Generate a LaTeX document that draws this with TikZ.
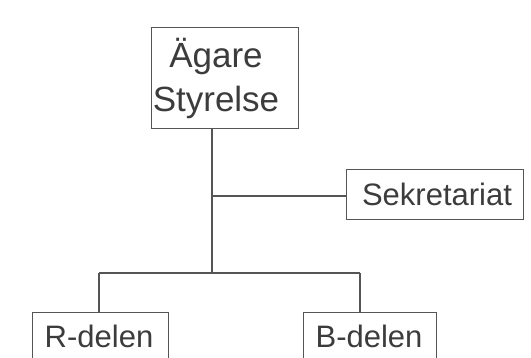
\documentclass[tikz,border=0pt]{standalone}
\usepackage{fontspec}
\setmainfont{Liberation Sans}
\definecolor{ink}{HTML}{3C3C3C}
\definecolor{rule}{HTML}{555555}
\begin{document}
\begin{tikzpicture}[x=1pt,y=-1pt,
  box/.style={draw=rule, line width=1.4pt, inner sep=0pt, anchor=north west},
  big/.style={font=\fontsize{35}{42}\selectfont, text=ink, anchor=base, inner sep=0pt},
  mid/.style={font=\fontsize{31}{37}\selectfont, text=ink, anchor=base, inner sep=0pt},
  wire/.style={draw=rule, line width=1.4pt}]
\useasboundingbox (0,0) rectangle (531,358);
\clip (0,0) rectangle (531,358);
\fill[white] (0,0) rectangle (531,358);
% boxes
\node[box, minimum width=147pt, minimum height=101pt] (owner) at (151,27) {};
\node[big] (t1) at (216,68) {Ägare};
\node[big] (t2) at (216,112) {Styrelse};
\node[box, minimum width=177pt, minimum height=50pt] (sek) at (346,169) {};
\node[mid] (sekt) at (437,206) {Sekretariat};
\node[box, minimum width=136pt, minimum height=60pt] (rd) at (32,312) {};
\node[mid] (rdt) at (99,348) {R-delen};
\node[box, minimum width=133pt, minimum height=60pt] (bd) at (303,312) {};
\node[mid] (bdt) at (369,348) {B-delen};
% connectors
\coordinate (j1) at (212,196);
\coordinate (j2) at (212,273);
\coordinate (jl) at (99,273);
\coordinate (jr) at (360,273);
\draw[wire] (owner.south -| j1) -- (j2);
\draw[wire] (j1) -- (sek.west |- j1);
\draw[wire] (jl) -- (jr);
\draw[wire] (jl) -- (rd.north -| jl);
\draw[wire] (jr) -- (bd.north -| jr);
\end{tikzpicture}
\end{document}
